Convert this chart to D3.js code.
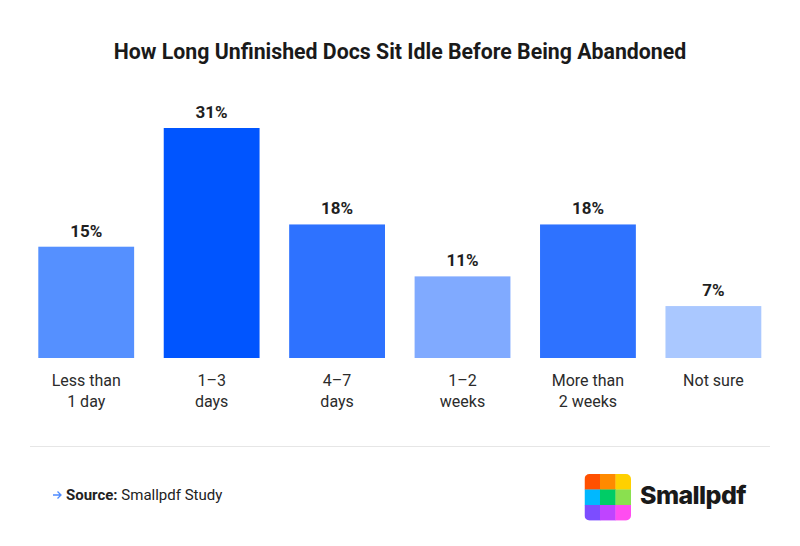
<!DOCTYPE html>
<html>
<head>
<meta charset="utf-8">
<script src="https://cdn.jsdelivr.net/npm/d3@7"></script>
<style>
  body { margin: 0; background: #fff; }
  svg { display: block; font-family: Roboto, "Noto Sans", sans-serif; }
</style>
</head>
<body>
<div id="chart"></div>
<script>
// Chart data
var title = "How Long Unfinished Docs Sit Idle Before Being Abandoned";
var categories = ["Less than\n1 day", "1–3\ndays", "4–7\ndays", "1–2\nweeks", "More than\n2 weeks", "Not sure"];
var values = [15, 31, 18, 11, 18, 7];
var barColors = ["#5590ff", "#0055ff", "#2e72ff", "#80aaff", "#2e72ff", "#aac8ff"];
var logoColors = ["#ff5000", "#ff8a00", "#ffd000",
                  "#00b8ff", "#00cc66", "#8ae04f",
                  "#7c4dff", "#bf44ff", "#ff4df0"];

var width = 800, height = 546;

var svg = d3.select("#chart")
    .append("svg")
    .attr("width", width)
    .attr("height", height);

// Title
svg.append("text")
    .attr("x", 400)
    .attr("y", 59)
    .attr("text-anchor", "middle")
    .style("font-size", "21.3px")
    .style("font-weight", 700)
    .style("fill", "#1a1a1a")
    .text(title);

// Scales
var x = d3.scaleBand()
    .domain(categories)
    .range([38.3, 761.3])
    .paddingInner(0.236)
    .paddingOuter(0);

var y = d3.scaleLinear()
    .domain([0, 31])
    .range([358, 128]);

// Bars
svg.selectAll(".bar")
    .data(values)
    .enter()
    .append("rect")
    .attr("class", "bar")
    .attr("x", function(d, i) { return x(categories[i]); })
    .attr("y", function(d) { return y(d); })
    .attr("width", x.bandwidth())
    .attr("height", function(d) { return y(0) - y(d); })
    .style("fill", function(d, i) { return barColors[i]; });

// Value labels
svg.selectAll(".value")
    .data(values)
    .enter()
    .append("text")
    .attr("class", "value")
    .attr("x", function(d, i) { return x(categories[i]) + x.bandwidth() / 2; })
    .attr("y", function(d) { return y(d) - 10; })
    .attr("text-anchor", "middle")
    .style("font-size", "17px")
    .style("font-weight", 700)
    .style("fill", "#1f1f1f")
    .text(function(d) { return d + "%"; });

// Category labels, split on newline
var catLabels = svg.selectAll(".cat")
    .data(categories)
    .enter()
    .append("text")
    .attr("class", "cat")
    .attr("text-anchor", "middle")
    .attr("x", function(d) { return x(d) + x.bandwidth() / 2; })
    .attr("y", 386)
    .style("font-size", "16px")
    .style("fill", "#2b2b2b");

catLabels.each(function(d) {
    var lines = d.split("\n");
    var t = d3.select(this);
    lines.forEach(function(line, i) {
        t.append("tspan")
            .attr("x", x(d) + x.bandwidth() / 2)
            .attr("dy", i == 0 ? 0 : 21)
            .text(line);
    });
});

// Divider
svg.append("line")
    .attr("x1", 30).attr("x2", 770)
    .attr("y1", 446.5).attr("y2", 446.5)
    .style("stroke", "#e6e6e6")
    .style("stroke-width", 1);

// Source line with small arrow
svg.append("path")
    .attr("d", "M53,495H61M57.5,491.5L61,495L57.5,498.5")
    .style("fill", "none")
    .style("stroke", "#4d8bff")
    .style("stroke-width", 1.3);

var src = svg.append("text")
    .attr("x", 66)
    .attr("y", 500)
    .style("font-size", "15px")
    .style("fill", "#222");
src.append("tspan").style("font-weight", 700).text("Source:");
src.append("tspan").text(" Smallpdf Study");

// Logo: 3x3 grid clipped to rounded square
var logoX = 584.5, logoY = 474, logoSize = 46.5, cell = logoSize / 3;
svg.append("clipPath")
    .attr("id", "logoClip")
    .append("rect")
    .attr("x", logoX).attr("y", logoY)
    .attr("width", logoSize).attr("height", logoSize)
    .attr("rx", 5);

svg.append("g")
    .attr("clip-path", "url(#logoClip)")
    .selectAll("rect")
    .data(logoColors)
    .enter()
    .append("rect")
    .attr("x", function(d, i) { return logoX + (i % 3) * cell; })
    .attr("y", function(d, i) { return logoY + Math.floor(i / 3) * cell; })
    .attr("width", cell + 0.3)
    .attr("height", cell + 0.3)
    .style("fill", function(d) { return d; });

svg.append("text")
    .attr("x", 640)
    .attr("y", 503.5)
    .style("font-family", "Inter, Lato, sans-serif")
    .style("font-size", "25px")
    .style("font-weight", 800)
    .style("letter-spacing", "-0.6px")
    .style("fill", "#1a1a1a")
    .text("Smallpdf");
</script>
</body>
</html>
